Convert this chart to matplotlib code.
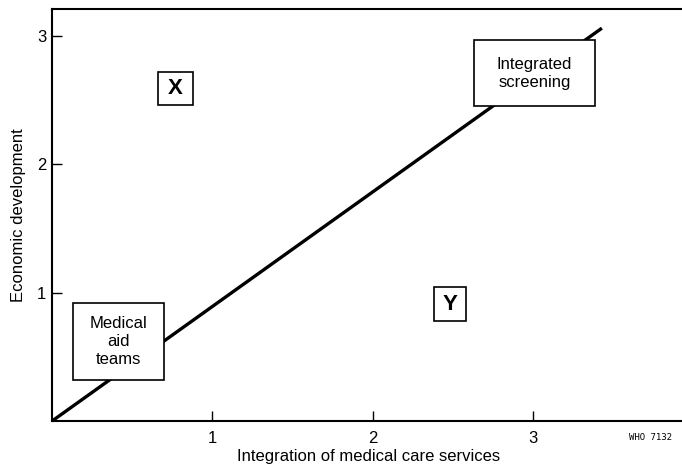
import matplotlib.pyplot as plt
from matplotlib.patches import Rectangle

plt.rcParams['font.family'] = ['Liberation Sans Narrow', 'Liberation Sans', 'DejaVu Sans']

# diagonal line
line_x = [0, 3.43]
line_y = [0, 3.06]

# labelled boxes: text, centre, box size (data units), font size, weight
box_texts = ["X", "Y", "Integrated\nscreening", "Medical\naid\nteams"]
box_x = [0.77, 2.48, 3.01, 0.414]
box_y = [2.59, 0.91, 2.71, 0.62]
box_w = [0.22, 0.20, 0.75, 0.565]
box_h = [0.25, 0.265, 0.51, 0.60]
box_fs = [16, 16, 12, 12]
box_wt = ["bold", "bold", "normal", "normal"]

ticks = [1, 2, 3]

fig = plt.figure(figsize=(6.82, 4.68), dpi=100)
ax = fig.add_axes([0.076, 0.100, 0.93, 0.881])

ax.plot(line_x, line_y, color='black', lw=2.4, solid_capstyle='butt', zorder=2)

for t, cx, cy, w, h, fs, wt in zip(box_texts, box_x, box_y, box_w, box_h, box_fs, box_wt):
    ax.add_patch(Rectangle((cx - w / 2, cy - h / 2), w, h, facecolor='white',
                           edgecolor='black', lw=1.2, zorder=3))
    ax.text(cx, cy, t, ha='center', va='center', fontsize=fs, fontweight=wt,
            linespacing=1.25, zorder=4)

ax.set_xlim(0, 3.955)
ax.set_ylim(0, 3.21)
ax.set_xticks(ticks)
ax.set_yticks(ticks)
ax.tick_params(direction='in', length=7, width=1, labelsize=12)
ax.tick_params(axis='x', pad=7)
ax.tick_params(axis='y', pad=4)
ax.spines['right'].set_visible(False)
for s in ['left', 'top', 'bottom']:
    ax.spines[s].set_linewidth(1.5)

ax.set_xlabel("Integration of medical care services", fontsize=12, labelpad=2)
ax.set_ylabel("Economic development", fontsize=12, labelpad=8)

fig.text(0.985, 0.065, "WHO 7132", fontsize=6.5, ha='right', va='center',
         family='DejaVu Sans Mono')

fig.savefig("out.png", dpi=100)
